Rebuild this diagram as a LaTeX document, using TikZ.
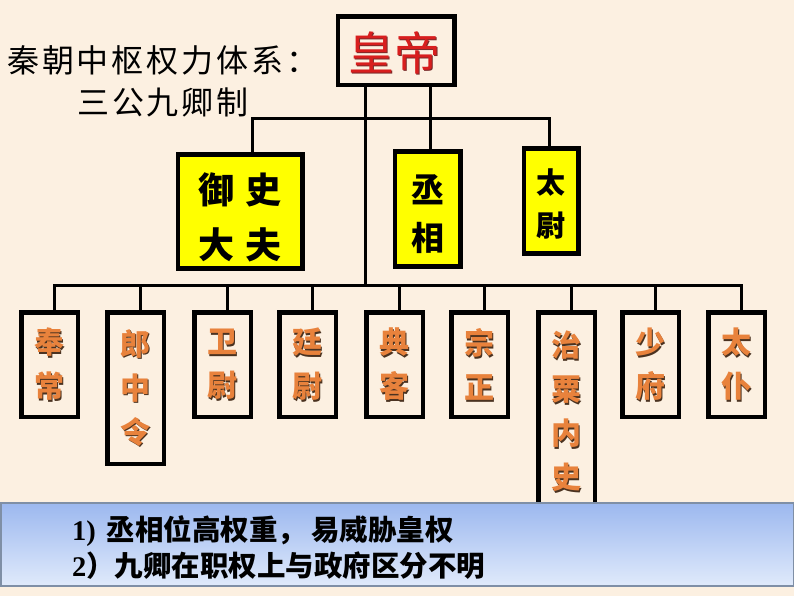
\documentclass[tikz,border=0pt]{standalone}
\usepackage{fontspec}
\setmainfont{Liberation Serif}
\newfontfamily\cjk{Noto Sans CJK SC}
\newfontfamily\cjksp{Noto Sans CJK SC}[LetterSpace=9]
\definecolor{bg}{HTML}{FCF0E1}
\definecolor{ybox}{HTML}{FFFF00}
\definecolor{redtxt}{HTML}{D81E1E}
\definecolor{redshd}{HTML}{7A2A2A}
\definecolor{morange}{HTML}{E8823C}
\definecolor{mshadow}{HTML}{4A3220}
\definecolor{pantop}{HTML}{9CB8EF}
\definecolor{panbot}{HTML}{E0EAFB}
\definecolor{panline}{HTML}{7F8FA6}
\begin{document}
\begin{tikzpicture}[x=1pt,y=-1pt,
  conn/.style={line width=3pt, line cap=rect},
  bx/.style={draw, line width=3pt, inner sep=0pt},
  mbox/.style={bx, fill=bg, minimum width=55pt, anchor=north west},
  ymbox/.style={bx, fill=ybox},
  mtxt/.style={text=morange, font=\cjk\bfseries\fontsize{30}{44}\selectfont, align=center, inner sep=0pt},
  mshd/.style={mtxt, text=mshadow},
  ytxt/.style={font=\cjk\bfseries, align=center, inner sep=0pt},
  ttl/.style={font=\cjksp\fontsize{32}{32}\selectfont, inner sep=0pt},
  ptxt/.style={anchor=west, inner sep=0pt, font=\fontsize{28.5}{28.5}\selectfont}
]
\useasboundingbox (0,0) rectangle (794,596);
\fill[bg] (0,0) rectangle (794,596);

% title
\node[ttl, anchor=west] (title) at (7,60) {秦朝中枢权力体系：};
\node[ttl, anchor=west] (sub) at (77,102) {三公九卿制};

% emperor
\node[bx, fill=bg, minimum width=115pt, minimum height=67pt] (emp) at (396,51) {};
% three lords
\node[ymbox, minimum width=123pt, minimum height=112pt] (yushi) at (240,211.5) {};
\node[ymbox, minimum width=64pt, minimum height=113pt] (chengx) at (427.5,209) {};
\node[ymbox, minimum width=53pt, minimum height=103pt] (taiwei) at (551,201) {};

% nine ministers
\foreach \i/\x/\h in {1/19/103, 2/105/150, 3/192/103, 4/277/103, 5/364/103, 6/449/103, 7/536/197, 8/620/103, 9/706/103}{
  \node[mbox, minimum height=\h pt] (m\i) at (\x+1.5, 311.5) {};
}

% connectors
\coordinate (bar1) at (0,119);
\coordinate (bar2) at (0,285);
\path ([xshift=12pt]yushi.north) coordinate (ysc);
\path ([xshift=-2pt]taiwei.north) coordinate (twc);
\path ([xshift=34pt]emp.south) coordinate (ec1);
\path ([xshift=-31pt]emp.south) coordinate (ec2);
\draw[conn] (ysc) |- (twc |- bar1) -- (twc);
\draw[conn] (ec1) -- (ec1 |- chengx.north);
\draw[conn] (ec2) -- (ec2 |- bar2);
\path ([xshift=5pt]m1.north) coordinate (m1c);
\path ([xshift=5pt]m9.north) coordinate (m9c);
\draw[conn] (m1c) |- (m9c |- bar2) -- (m9c);
\foreach \i in {2,...,8}{
  \draw[conn] ([xshift=5pt]m\i.north) -- ([xshift=5pt]m\i.north |- bar2);
}
% redraw box borders over connector ends
\foreach \n in {emp,yushi,chengx,taiwei,m1,m2,m3,m4,m5,m6,m7,m8,m9}{
  \draw[line width=3pt] (\n.north west) rectangle (\n.south east);
}

% texts
\node[text=redshd, font=\cjk\fontsize{46}{46}\selectfont, inner sep=0pt] at (395.2,54.2) {皇帝};
\node[text=redtxt, font=\cjk\fontsize{46}{46}\selectfont, inner sep=0pt] (emptxt) at (394,53) {皇帝};

\node[ytxt, font=\cjk\bfseries\fontsize{36}{55}\selectfont] (yst) at (240,217) {御\hspace{11pt}史\\大\hspace{11pt}夫};
\node[ytxt, font=\cjk\bfseries\fontsize{33}{48}\selectfont] (cxt) at (427.5,214) {丞\\相};
\node[ytxt, font=\cjk\bfseries\fontsize{29}{43}\selectfont] (twt) at (551,203.5) {太\\尉};

\foreach \i/\t in {1/奉\\常, 2/郎\\中\\令, 3/卫\\尉, 4/廷\\尉, 5/典\\客, 6/宗\\正, 7/治\\粟\\内\\史, 8/少\\府, 9/太\\仆}{
  \node[mshd] at ([shift={(1.4,1.4)}]m\i.center) {\t};
  \node[mtxt] (t\i) at (m\i.center) {\t};
}

% bottom panel
\shade[top color=pantop, bottom color=panbot] (0,503) rectangle (794,586);
\draw[panline, line width=1.5pt] (0.75,503) rectangle (793.25,586);
\node[ptxt] (p1) at (72,531) {{\bfseries 1)}\hspace{11pt}{\cjk\bfseries 丞相位高权重，\hspace{5pt}易威胁皇权}};
\node[ptxt] (p2) at (72,566) {{\bfseries 2}{\cjk\bfseries ）九卿在职权上与政府区分不明}};
\end{tikzpicture}
\end{document}
